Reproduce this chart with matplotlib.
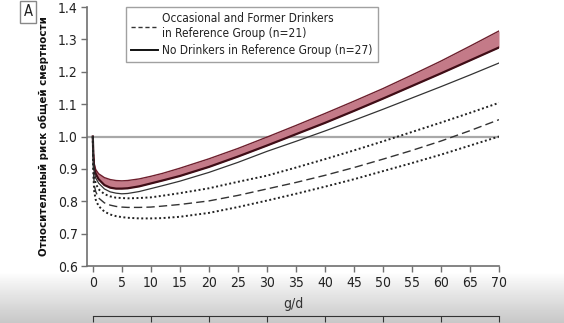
import numpy as np
import matplotlib
matplotlib.use('Agg')
import matplotlib.pyplot as plt
from matplotlib.lines import Line2D
from matplotlib import font_manager

# узкий шрифт, если он есть
path = font_manager.findfont(font_manager.FontProperties(family='DejaVu Sans', stretch='condensed'))
if 'Condensed' in path:
    plt.rcParams['font.family'] = ['DejaVu Sans']
    plt.rcParams['font.stretch'] = 'condensed'
else:
    plt.rcParams['font.family'] = ['Liberation Sans', 'DejaVu Sans']

# ── Данные: доза (г/сут) и относительный риск ──
dose = [0, 0.1, 0.25, 0.5, 1, 2, 3, 4, 5, 6, 8, 10, 12, 15, 20, 25, 30,
        35, 40, 45, 50, 55, 60, 65, 70]

# без пьющих в референтной группе (n=27): полоса
no_drink_hi = [1.0, 0.95, 0.915, 0.898, 0.885, 0.873, 0.867, 0.864, 0.863, 0.864,
               0.869, 0.877, 0.886, 0.902, 0.931, 0.963, 0.998, 1.034, 1.071,
               1.109, 1.148, 1.190, 1.233, 1.279, 1.326]
no_drink_lo = [1.0, 0.94, 0.90, 0.885, 0.868, 0.850, 0.842, 0.839, 0.839, 0.840,
               0.846, 0.855, 0.864, 0.878, 0.906, 0.938, 0.972, 1.007, 1.042,
               1.079, 1.117, 1.156, 1.195, 1.235, 1.275]
no_drink_thin = [1.0, 0.93, 0.89, 0.872, 0.856, 0.838, 0.829, 0.825, 0.823, 0.824,
                 0.830, 0.839, 0.848, 0.862, 0.889, 0.920, 0.954, 0.985, 1.017,
                 1.050, 1.084, 1.119, 1.154, 1.190, 1.227]

# бывшие и эпизодически пьющие в референтной группе (n=21)
occ_hi = [1.0, 0.92, 0.875, 0.855, 0.837, 0.822, 0.815, 0.811, 0.810, 0.809,
          0.810, 0.812, 0.817, 0.825, 0.840, 0.860, 0.879, 0.904, 0.930,
          0.957, 0.985, 1.014, 1.043, 1.073, 1.104]
occ_mid = [1.0, 0.90, 0.85, 0.83, 0.81, 0.795, 0.788, 0.784, 0.782, 0.781,
           0.781, 0.782, 0.785, 0.790, 0.801, 0.818, 0.838, 0.858, 0.880,
           0.904, 0.930, 0.957, 0.986, 1.018, 1.052]
occ_lo = [1.0, 0.88, 0.83, 0.805, 0.785, 0.768, 0.759, 0.754, 0.751, 0.749,
          0.747, 0.747, 0.748, 0.752, 0.764, 0.782, 0.802, 0.823, 0.845,
          0.868, 0.893, 0.918, 0.944, 0.972, 1.0]

x_ticks = list(range(0, 75, 5))
y_ticks = [0.6, 0.7, 0.8, 0.9, 1.0, 1.1, 1.2, 1.3, 1.4]

W, H = 564, 323
fig = plt.figure(figsize=(W / 100, H / 100), dpi=100)

# серый градиент внизу
bg = fig.add_axes([0, 0, 1, 1], zorder=-10)
grad = np.ones((H, 1))
yy = np.arange(H)
start = 272
grad[yy > start, 0] = 1 - 0.22 * ((yy[yy > start] - start) / (H - start)) ** 0.9
bg.imshow(grad, cmap='gray', vmin=0, vmax=1, aspect='auto',
          extent=[0, 1, 0, 1], origin='upper')
bg.axis('off')

ax = fig.add_axes([87.4 / W, 1 - 266 / H, (499 - 87.4) / W, (266 - 7) / H])
ax.patch.set_alpha(0)

ax.axhline(1.0, color='#a8a8a8', lw=1.6, zorder=1)

ax.fill_between(dose, no_drink_lo, no_drink_hi, color='#c47a88', lw=0, zorder=2)
ax.plot(dose, no_drink_hi, color='#6e1f2d', lw=1.0, zorder=3)
ax.plot(dose, no_drink_lo, color='#3f0d16', lw=1.6, zorder=3)
ax.plot(dose, no_drink_thin, color='#333333', lw=0.9, zorder=3)

ax.plot(dose, occ_hi, color='#222222', lw=1.4, ls=(0, (1, 1.3)), zorder=3)
ax.plot(dose, occ_mid, color='#333333', lw=1.0, ls=(0, (6, 3)), zorder=3)
ax.plot(dose, occ_lo, color='#222222', lw=1.4, ls=(0, (1, 1.3)), zorder=3)

ax.set_xlim(-0.93, 70)
ax.set_ylim(0.6, 1.4)
ax.set_xticks(x_ticks)
ax.set_yticks(y_ticks)
ax.set_yticklabels([f'{v:.1f}' for v in y_ticks])
for s in ['top', 'right']:
    ax.spines[s].set_visible(False)
for s in ['left', 'bottom']:
    ax.spines[s].set_color('#707070')
    ax.spines[s].set_linewidth(1.2)
ax.tick_params(direction='out', length=4, width=1, color='#707070',
               labelsize=10, labelcolor='#222222', pad=3)

ax.set_xlabel('g/d', fontsize=10, color='#333333', labelpad=5)
ax.set_ylabel('Относительный риск общей смертности', fontsize=8.2,
              fontweight='bold', color='#111111', labelpad=6)

handles = [Line2D([], [], color='#333333', lw=1.0, ls=(0, (3, 2))),
           Line2D([], [], color='#111111', lw=1.4)]
labels = ['Occasional and Former Drinkers\nin Reference Group (n=21)',
          'No Drinkers in Reference Group (n=27)']
leg = ax.legend(handles, labels, loc='upper left',
                bbox_to_anchor=(126 / W, 1 - 7 / H), bbox_transform=fig.transFigure,
                fontsize=8.6, frameon=True, fancybox=False, handlelength=2.2,
                handletextpad=0.4, borderpad=0.45, labelspacing=0.3,
                borderaxespad=0)
leg.get_frame().set_edgecolor('#8a8a8a')
leg.get_frame().set_linewidth(1.0)
for t in leg.get_texts():
    t.set_color('#222222')

# буква панели
fig.text(28 / W, 1 - 12 / H, 'A', fontsize=10.5, ha='center', va='center',
         color='#222222',
         bbox=dict(boxstyle='square,pad=0.25', fc='white', ec='#888888', lw=1))

# верх следующей панели
ax2 = fig.add_axes([87.4 / W, -0.2, (499 - 87.4) / W, 0.2 + (1 - 316 / H)])
ax2.patch.set_alpha(0)
ax2.set_xlim(-0.93, 70)
for s in ['left', 'right', 'bottom']:
    ax2.spines[s].set_visible(False)
ax2.spines['top'].set_bounds(0, 70)
ax2.spines['top'].set_color('#333333')
ax2.xaxis.tick_top()
ax2.set_xticks(list(range(0, 80, 10)))
ax2.tick_params(axis='x', direction='in', length=4, color='#333333', labeltop=False)
ax2.set_yticks([])

fig.savefig('out.png', dpi=100)
